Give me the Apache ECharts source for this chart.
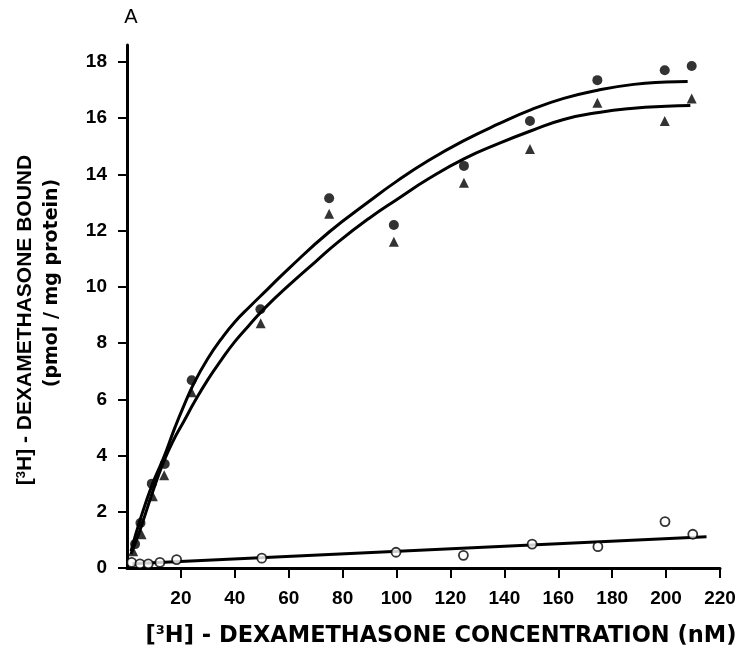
<!DOCTYPE html>
<html>
<head>
<meta charset="utf-8">
<script src="https://cdn.jsdelivr.net/npm/echarts@6/dist/echarts.min.js"></script>
<style>
html, body { margin: 0; padding: 0; background: #fff; }
#chart { width: 747px; height: 657px; }
</style>
</head>
<body>
<div id="chart"></div>
<script>
// tick labels
var xTicks = [20, 40, 60, 80, 100, 120, 140, 160, 180, 200, 220];
var yTicks = [0, 2, 4, 6, 8, 10, 12, 14, 16, 18];

// filled circles
var totalPts = [
  [3, 0.85], [5, 1.6], [9.2, 3.0], [14, 3.7], [24, 6.68], [49.5, 9.2],
  [75, 13.15], [99, 12.2], [125, 14.3], [149.5, 15.9], [174.5, 17.35],
  [199.5, 17.7], [209.5, 17.85]
];
// filled triangles
var specificPts = [
  [2.3, 0.6], [5.4, 1.2], [9.6, 2.55], [13.8, 3.3], [24, 6.25], [49.6, 8.7],
  [75, 12.6], [99, 11.6], [125, 13.7], [149.5, 14.9], [174.5, 16.55],
  [199.5, 15.9], [209.5, 16.7]
];
// open circles
var nonspecPts = [
  [1.7, 0.2], [4.8, 0.15], [7.9, 0.15], [12.2, 0.2], [18.4, 0.3], [50, 0.35],
  [99.8, 0.56], [124.8, 0.45], [150.3, 0.85], [174.7, 0.76], [199.6, 1.65],
  [209.9, 1.2]
];

// fitted curves
var totalFit = [
  [1.5, 0.6], [5, 1.75], [9.5, 3.0], [13.5, 3.9], [17.8, 5.0], [21, 5.75],
  [25, 6.6], [30, 7.45], [35, 8.15], [40, 8.75], [45.6, 9.3], [52, 9.9],
  [60, 10.65], [75, 11.95], [90, 13.05], [100, 13.75], [112, 14.5],
  [125, 15.2], [138, 15.8], [150, 16.3], [162, 16.7], [175, 17.0],
  [188, 17.2], [200, 17.28], [208, 17.3]
];
var specificFit = [
  [1.5, 0.5], [5, 1.4], [9.5, 2.7], [13.5, 3.75], [17, 4.5], [21, 5.2],
  [25, 5.9], [30, 6.7], [35, 7.4], [40, 8.05], [45, 8.6], [51.2, 9.25],
  [60, 10.05], [70, 10.9], [78.4, 11.6], [90, 12.45], [100, 13.1],
  [112, 13.85], [125, 14.55], [138, 15.1], [150, 15.55], [162, 15.95],
  [175, 16.2], [188, 16.35], [200, 16.42], [209, 16.45]
];
var nonspecFit = [[2, 0.15], [215, 1.11]];

var chart = echarts.init(document.getElementById('chart'));

var font = 'Liberation Sans, Arial, sans-serif';
var wide = 'DejaVu Sans, sans-serif';

var option = {
  backgroundColor: '#fff',
  animation: false,
  grid: { left: 127, right: 27, top: 45, bottom: 89 },
  xAxis: {
    type: 'value',
    min: 0,
    max: 220,
    interval: 20,
    splitLine: { show: false },
    axisLine: { lineStyle: { color: '#000', width: 3 } },
    axisTick: { customValues: xTicks, length: 10, lineStyle: { color: '#000', width: 2 } },
    axisLabel: {
      customValues: xTicks,
      margin: 21,
      color: '#000',
      fontSize: 19,
      fontWeight: 'bold',
      fontFamily: font
    }
  },
  yAxis: {
    type: 'value',
    min: 0,
    max: 18.6,
    splitLine: { show: false },
    axisLine: { show: true, lineStyle: { color: '#000', width: 3 } },
    axisTick: { show: true, customValues: yTicks, length: 9, lineStyle: { color: '#000', width: 2 } },
    axisLabel: {
      customValues: yTicks,
      margin: 20,
      color: '#000',
      fontSize: 19,
      fontWeight: 'bold',
      fontFamily: font
    }
  },
  series: [
    {
      type: 'line', data: totalFit, smooth: 0.5, showSymbol: false,
      lineStyle: { color: '#000', width: 3 }, z: 2
    },
    {
      type: 'line', data: specificFit, smooth: 0.5, showSymbol: false,
      lineStyle: { color: '#000', width: 3 }, z: 2
    },
    {
      type: 'line', data: nonspecFit, showSymbol: false,
      lineStyle: { color: '#000', width: 3 }, z: 2
    },
    {
      type: 'scatter', data: totalPts, symbol: 'circle', symbolSize: 10,
      itemStyle: { color: '#000' }, z: 3
    },
    {
      type: 'scatter', data: specificPts, symbol: 'triangle', symbolSize: 10,
      itemStyle: { color: '#000' }, z: 3
    },
    {
      type: 'scatter', data: nonspecPts, symbol: 'circle', symbolSize: 9,
      itemStyle: { color: '#fff', borderColor: '#000', borderWidth: 1.8 }, z: 4
    }
  ],
  graphic: [
    {
      type: 'text', x: 131, y: 17,
      style: {
        text: 'A', fill: '#000', font: '20px ' + font,
        align: 'center', verticalAlign: 'middle'
      }
    },
    {
      type: 'text', x: 441, y: 636,
      style: {
        text: '[{s|3}H] - DEXAMETHASONE CONCENTRATION (nM)',
        fill: '#000', font: 'bold 22.5px ' + wide,
        align: 'center', verticalAlign: 'middle',
        rich: { s: { fontSize: 13, fontWeight: 'bold', fontFamily: wide, verticalAlign: 'top', padding: [0, 0, 9, 0] } }
      }
    },
    {
      type: 'text', x: 25, y: 320, rotation: Math.PI / 2,
      style: {
        text: '[{s|3}H] - DEXAMETHASONE BOUND',
        fill: '#000', font: 'bold 21px ' + font,
        align: 'center', verticalAlign: 'middle',
        rich: { s: { fontSize: 13, fontWeight: 'bold', verticalAlign: 'top', padding: [0, 0, 8, 0] } }
      }
    },
    {
      type: 'text', x: 52, y: 283, rotation: Math.PI / 2,
      style: {
        text: '(pmol / mg protein)',
        fill: '#000', font: 'bold 19px ' + wide,
        align: 'center', verticalAlign: 'middle'
      }
    }
  ]
};

chart.setOption(option);
window.onresize = chart.resize;
</script>
</body>
</html>
